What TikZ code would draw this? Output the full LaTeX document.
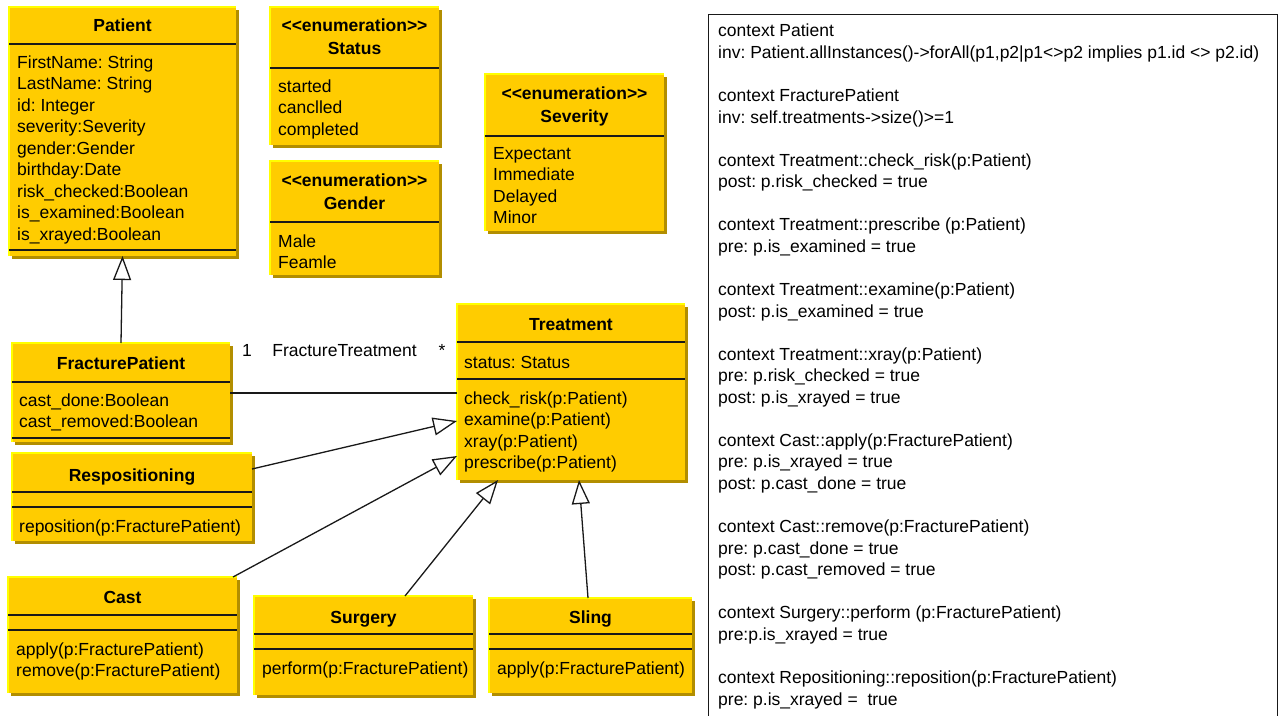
\documentclass[tikz,border=0pt]{standalone}
\usepackage{fontspec}
\setmainfont{Liberation Sans}
\usetikzlibrary{arrows.meta,shadows}
\definecolor{umlfill}{RGB}{255,204,0}
\definecolor{umlshadow}{RGB}{178,142,0}
\definecolor{umlhi}{RGB}{255,255,0}
\definecolor{inkline}{RGB}{25,25,25}
\newcommand{\umlbox}[5]{%
  \node[classbox, minimum width={#4-#2}, minimum height={#5-#3}] (#1) at (#2,#3) {};
  \draw[umlhi, line width=1.6pt] (#1.south west) -- (#1.north west) -- (#1.north east);}
\newcommand{\sepline}[2]{\draw[sepl] (#1.west |- 0,#2) -- (#1.east |- 0,#2);}
\frenchspacing
\begin{document}
\frenchspacing
\begin{tikzpicture}[x=1pt, y=-1pt,
  font=\fontsize{17.5}{21.5}\selectfont,
  classbox/.style={fill=umlfill, inner sep=0pt, outer sep=0pt, anchor=north west,
    drop shadow={shadow xshift=2.5pt, shadow yshift=-2.5pt, fill=umlshadow, opacity=1}},
  sepl/.style={draw=inkline, line width=1.5pt},
  ctitle/.style={anchor=base, inner sep=0pt, align=center,
    font=\fontsize{17.5}{23}\selectfont\bfseries},
  citems/.style={anchor=base west, inner sep=0pt, align=left},
  gen/.style={draw=inkline, line width=1.3pt, -{Triangle[open, length=24pt, width=18pt]}},
  assoc/.style={draw=inkline, line width=1.3pt},
  lbl/.style={anchor=base, inner sep=0pt}]
\useasboundingbox (0,0) rectangle (1279,715);
% note: multi-line nodes are placed at the baseline of their LAST line

% Patient
\umlbox{patient}{9}{7}{236}{256}
\node[ctitle] (patient-t) at (122.5,31) {Patient};
\sepline{patient}{44}
\node[citems] (patient-a) at (17,240) {FirstName: String\\LastName: String\\id: Integer\\severity:Severity\\gender:Gender\\birthday:Date\\risk\_checked:Boolean\\is\_examined:Boolean\\is\_xrayed:Boolean};
\sepline{patient}{250}

% Status
\umlbox{status}{270}{7}{439}{145}
\node[ctitle] (status-t) at (354.5,54) {<\kern0pt<enumeration>\kern0pt>\\Status};
\sepline{status}{68}
\node[citems] (status-a) at (278,135) {started\\canclled\\completed};

% Gender
\umlbox{gender}{270}{161}{439}{275}
\node[ctitle] (gender-t) at (354.5,209) {<\kern0pt<enumeration>\kern0pt>\\Gender};
\sepline{gender}{222}
\node[citems] (gender-a) at (278,268.5) {Male\\Feamle};

% Severity
\umlbox{severity}{485}{74}{664}{231}
\node[ctitle] (severity-t) at (574.5,122) {<\kern0pt<enumeration>\kern0pt>\\Severity};
\sepline{severity}{136}
\node[citems] (severity-a) at (493,223.5) {Expectant\\Immediate\\Delayed\\Minor};

% FracturePatient
\umlbox{fp}{12}{343}{230}{442}
\node[ctitle] (fp-t) at (121,369) {FracturePatient};
\sepline{fp}{382}
\node[citems] (fp-a) at (19,427.5) {cast\_done:Boolean\\cast\_removed:Boolean};
\sepline{fp}{438}

% Respositioning
\umlbox{resp}{12}{453}{252}{541}
\node[ctitle] (resp-t) at (132,481) {Respositioning};
\sepline{resp}{492}
\sepline{resp}{507}
\node[citems] (resp-m) at (19,532) {reposition(p:FracturePatient)};

% Treatment
\umlbox{treatment}{457}{304}{685}{480}
\node[ctitle] (treatment-t) at (571,330) {Treatment};
\sepline{treatment}{342}
\node[citems] (treatment-a) at (464,368) {status: Status};
\sepline{treatment}{379}
\node[citems] (treatment-m) at (464,468.5) {check\_risk(p:Patient)\\examine(p:Patient)\\xray(p:Patient)\\prescribe(p:Patient)};

% Cast
\umlbox{cast}{8}{577}{237}{693}
\node[ctitle] (cast-t) at (122.5,603) {Cast};
\sepline{cast}{615}
\sepline{cast}{630}
\node[citems] (cast-m) at (16,676.5) {apply(p:FracturePatient)\\remove(p:FracturePatient)};

% Surgery
\umlbox{surgery}{254}{596}{473}{695}
\node[ctitle] (surgery-t) at (363.5,623) {Surgery};
\sepline{surgery}{634}
\sepline{surgery}{649}
\node[citems] (surgery-m) at (262,674) {perform(p:FracturePatient)};

% Sling
\umlbox{sling}{489}{598}{692}{693}
\node[ctitle] (sling-t) at (590.5,623) {Sling};
\sepline{sling}{634}
\sepline{sling}{649}
\node[citems] (sling-m) at (497,674) {apply(p:FracturePatient)};

% connectors
\draw[gen] (fp.north) -- (patient.south);
\draw[assoc] (fp.east |- 0,393) -- (treatment.west |- 0,393);
\node[lbl] (m-one) at (247,356) {1};
\node[lbl] (m-name) at (344.5,356) {FractureTreatment};
\node[lbl] (m-star) at (442,356) {*};
\draw[gen] (resp.east |- 0,469) -- (treatment.west |- 0,421);
\draw[gen] (cast.north -| 233,0) -- (treatment.west |- 0,456);
\draw[gen] (surgery.north -| 405,0) -- (treatment.south -| 498,0);
\draw[gen] (sling.north -| 588,0) -- (treatment.south -| 579,0);

% OCL constraints
\node[draw=inkline, line width=1.3pt, fill=white, inner sep=0pt, anchor=north west,
  minimum width=569, minimum height=760] (ocl) at (708,14) {};
\node[citems, font=\fontsize{17.5}{21.55}\selectfont] (ocl-text) at (718,705) {context Patient\\
inv: Patient.allInstances()->forAll(p1,p2|p1<>p2 implies p1.id <> p2.id)\\
\mbox{}\\
context FracturePatient\\
inv: self.treatments->size()>=1\\
\mbox{}\\
context Treatment::check\_risk(p:Patient)\\
post: p.risk\_checked = true\\
\mbox{}\\
context Treatment::prescribe (p:Patient)\\
pre: p.is\_examined = true\\
\mbox{}\\
context Treatment::examine(p:Patient)\\
post: p.is\_examined = true\\
\mbox{}\\
context Treatment::xray(p:Patient)\\
pre: p.risk\_checked = true\\
post: p.is\_xrayed = true\\
\mbox{}\\
context Cast::apply(p:FracturePatient)\\
pre: p.is\_xrayed = true\\
post: p.cast\_done = true\\
\mbox{}\\
context Cast::remove(p:FracturePatient)\\
pre: p.cast\_done = true\\
post: p.cast\_removed = true\\
\mbox{}\\
context Surgery::perform (p:FracturePatient)\\
pre:p.is\_xrayed = true\\
\mbox{}\\
context Repositioning::reposition(p:FracturePatient)\\
pre: p.is\_xrayed = \ true};
\end{tikzpicture}
\end{document}
